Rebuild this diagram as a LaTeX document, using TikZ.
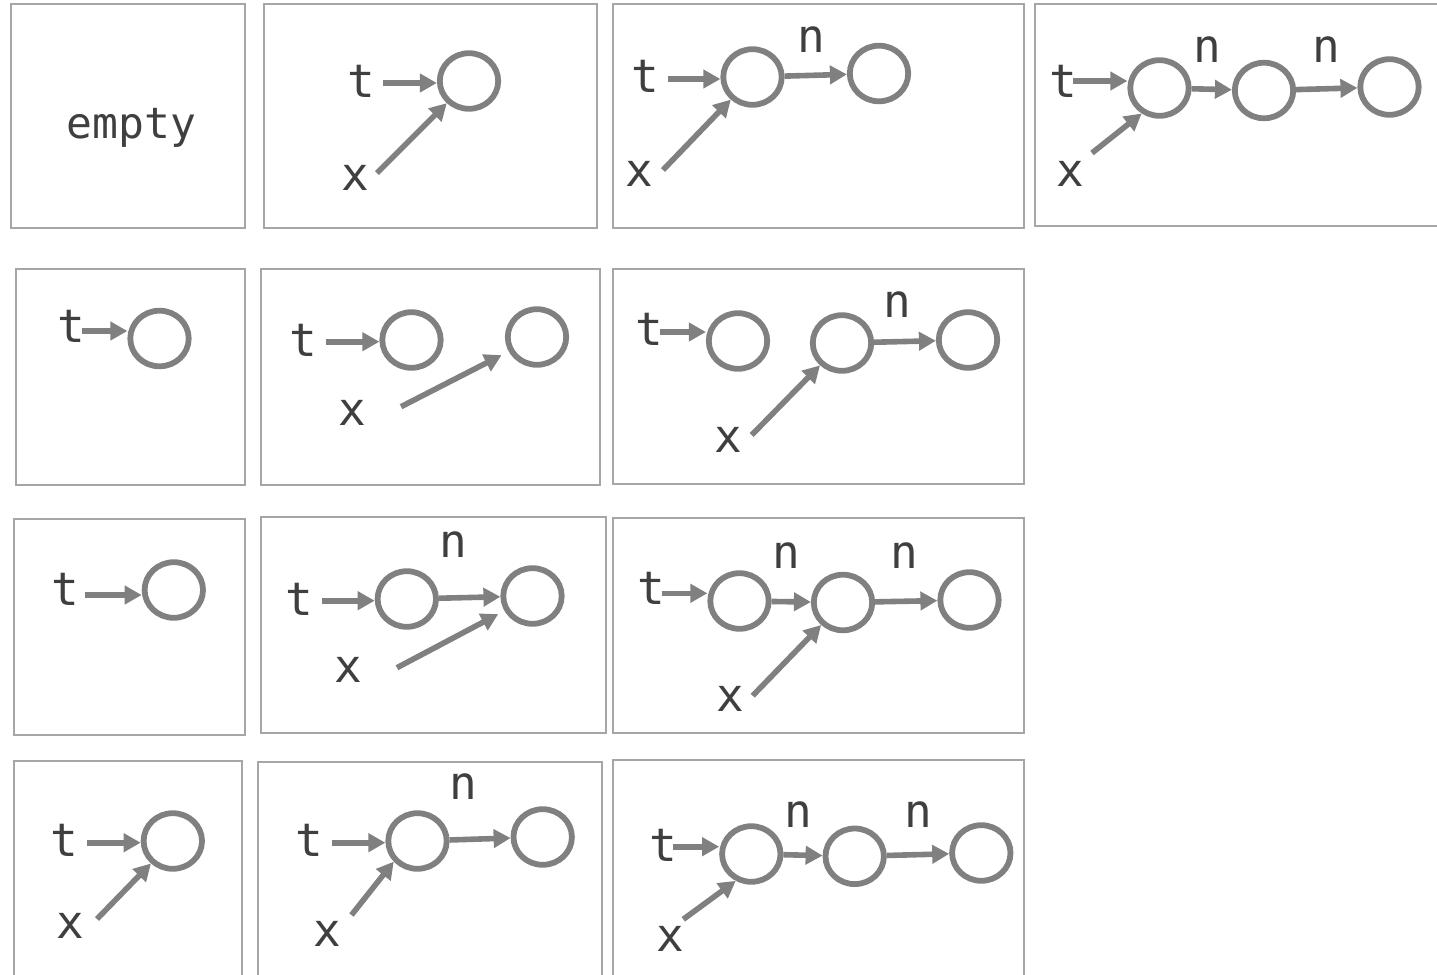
\documentclass[tikz,border=0pt]{standalone}
\usepackage{fontspec}
\setmonofont{DejaVu Sans Mono}
\usetikzlibrary{arrows.meta,shapes.geometric}
\definecolor{boxc}{HTML}{A6A6A6}
\definecolor{linec}{HTML}{808080}
\definecolor{txtc}{HTML}{3F3F3F}
\tikzset{
  panel/.style={draw=boxc, line width=1pt},
  lbl/.style={font=\ttfamily\fontsize{23}{23}\selectfont, text=txtc, inner sep=0pt, anchor=base},
  word/.style={font=\ttfamily\fontsize{21.5}{21.5}\selectfont, text=txtc, inner sep=0pt, anchor=base},
  cell/.style={ellipse, draw=linec, line width=2.9pt, minimum width=29.2pt, minimum height=27.8pt, inner sep=0pt},
  arr/.style={draw=linec, line width=2.8pt, -{Triangle[length=8.5pt,width=9pt]}},
}
\begin{document}
\begin{tikzpicture}[x=0.5pt,y=-0.5pt]
\useasboundingbox (0,0) rectangle (1437,975);
% P1
\draw[panel] (11,4) rectangle (245,228);
\node[word] (e1) at (131.5,138) {empty};
% P2
\draw[panel] (264,4) rectangle (597,228);
\node[lbl] (t2) at (361,97) {t};
\node[lbl] (x2) at (355,190) {x};
\node[cell] (c2a) at (469,81) {};
\coordinate (t2s) at (383,83);
\coordinate (x2s) at (377,173);
\draw[arr] (t2s) -- (c2a.west |- t2s);
\draw[arr] (x2s) -- (c2a);
% P3
\draw[panel] (613,4) rectangle (1024,228);
\node[lbl] (t3) at (645,92) {t};
\node[lbl] (x3) at (639,186) {x};
\node[lbl] (n3) at (811,52) {n};
\node[cell] (c3a) at (752.5,77) {};
\node[cell] (c3b) at (879,73.5) {};
\coordinate (t3s) at (668,79);
\coordinate (x3s) at (663,170);
\draw[arr] (t3s) -- (c3a.west |- t3s);
\draw[arr] (x3s) -- (c3a);
\draw[arr] (c3a) -- (c3b);
% P4
\draw[panel] (1035,4) rectangle (1445,226);
\node[lbl] (t4) at (1063.5,97) {t};
\node[lbl] (x4) at (1070,186) {x};
\node[lbl] (n4a) at (1207,62) {n};
\node[lbl] (n4b) at (1326,62) {n};
\node[cell] (c4a) at (1159.5,88) {};
\node[cell] (c4b) at (1264,90.5) {};
\node[cell] (c4c) at (1389.5,87) {};
\coordinate (t4s) at (1073,81);
\coordinate (x4s) at (1092,153);
\draw[arr] (t4s) -- (c4a.west |- t4s);
\draw[arr] (x4s) -- (c4a.235);
\draw[arr] (c4a) -- (c4b);
\draw[arr] (c4b) -- (c4c);
% P5
\draw[panel] (16,269) rectangle (245,485);
\node[lbl] (t5) at (71,342) {t};
\node[cell] (c5) at (159.5,338.5) {};
\coordinate (t5s) at (82,331);
\draw[arr] (t5s) -- (c5.west |- t5s);
% P6
\draw[panel] (261,269) rectangle (600,485);
\node[lbl] (t6) at (303.6,356) {t};
\node[lbl] (x6) at (352.7,425) {x};
\node[cell] (c6a) at (411.5,340) {};
\node[cell] (c6b) at (537,337) {};
\coordinate (t6s) at (326,341.7);
\coordinate (x6s) at (401,406.7);
\draw[arr] (t6s) -- (c6a.west |- t6s);
\draw[arr, shorten >=4pt] (x6s) -- (c6b);
% P7
\draw[panel] (613,269) rectangle (1024,484);
\node[lbl] (t7) at (649,345) {t};
\node[lbl] (x7) at (728,452.7) {x};
\node[lbl] (n7) at (897,317) {n};
\node[cell] (c7a) at (738,341) {};
\node[cell] (c7b) at (842,343) {};
\node[cell] (c7c) at (968,340) {};
\coordinate (t7s) at (660,332);
\coordinate (x7s) at (751.7,435);
\draw[arr] (t7s) -- (c7a.west |- t7s);
\draw[arr] (x7s) -- (c7b);
\draw[arr] (c7b) -- (c7c);
% P8
\draw[panel] (14,519) rectangle (245,735);
\node[lbl] (t8) at (65,605) {t};
\node[cell] (c8) at (173.8,590) {};
\coordinate (t8s) at (84.7,595);
\draw[arr] (t8s) -- (c8.west |- t8s);
% P9
\draw[panel] (261,517) rectangle (606,733);
\node[lbl] (t9) at (299.5,615) {t};
\node[lbl] (x9) at (348.7,682.7) {x};
\node[lbl] (n9) at (453.4,557.7) {n};
\node[cell] (c9a) at (406.8,599) {};
\node[cell] (c9b) at (532.5,596) {};
\coordinate (t9s) at (321.6,600.7);
\coordinate (x9s) at (397,667.7);
\draw[arr] (t9s) -- (c9a.west |- t9s);
\draw[arr] (c9a) -- (c9b);
\draw[arr, shorten >=3.5pt] (x9s) -- (c9b);
% P10
\draw[panel] (613,518) rectangle (1024,733);
\node[lbl] (t10) at (651,604) {t};
\node[lbl] (x10) at (730,711) {x};
\node[lbl] (n10a) at (786,568.3) {n};
\node[lbl] (n10b) at (904,568) {n};
\node[cell] (c10a) at (739.5,601) {};
\node[cell] (c10b) at (843,602.5) {};
\node[cell] (c10c) at (969.5,600) {};
\coordinate (t10s) at (661.7,593.3);
\coordinate (x10s) at (752.7,695.7);
\draw[arr] (t10s) -- (c10a.west |- t10s);
\draw[arr] (x10s) -- (c10b);
\draw[arr] (c10a) -- (c10b);
\draw[arr] (c10b) -- (c10c);
% P11
\draw[panel] (14,761) rectangle (242,995);
\node[lbl] (t11) at (64.3,856) {t};
\node[lbl] (x11) at (70.7,938.3) {x};
\node[cell] (c11) at (172.8,841) {};
\coordinate (t11s) at (87.4,842.7);
\coordinate (x11s) at (97,919);
\draw[arr] (t11s) -- (c11.west |- t11s);
\draw[arr] (x11s) -- (c11);
% P12
\draw[panel] (258,762) rectangle (602,995);
\node[lbl] (t12) at (309.7,856) {t};
\node[lbl] (x12) at (327.6,946) {x};
\node[lbl] (n12) at (463,799.3) {n};
\node[cell] (c12a) at (417.5,841) {};
\node[cell] (c12b) at (542.7,837) {};
\coordinate (t12s) at (332,842.7);
\coordinate (x12s) at (351.5,915);
\draw[arr] (t12s) -- (c12a.west |- t12s);
\draw[arr] (x12s) -- (c12a.221);
\draw[arr] (c12a) -- (c12b);
% P13
\draw[panel] (613,760) rectangle (1024,995);
\node[lbl] (t13) at (663,861) {t};
\node[lbl] (x13) at (670,951.7) {x};
\node[lbl] (n13a) at (798.8,827.3) {n};
\node[lbl] (n13b) at (918,827) {n};
\node[cell] (c13a) at (751.3,854) {};
\node[cell] (c13b) at (854.7,856.3) {};
\node[cell] (c13c) at (981.3,853) {};
\coordinate (t13s) at (673.3,846.7);
\coordinate (x13s) at (683.3,919.3);
\draw[arr] (t13s) -- (c13a.west |- t13s);
\draw[arr] (x13s) -- (c13a.240);
\draw[arr] (c13a) -- (c13b);
\draw[arr] (c13b) -- (c13c);
\end{tikzpicture}
\end{document}
